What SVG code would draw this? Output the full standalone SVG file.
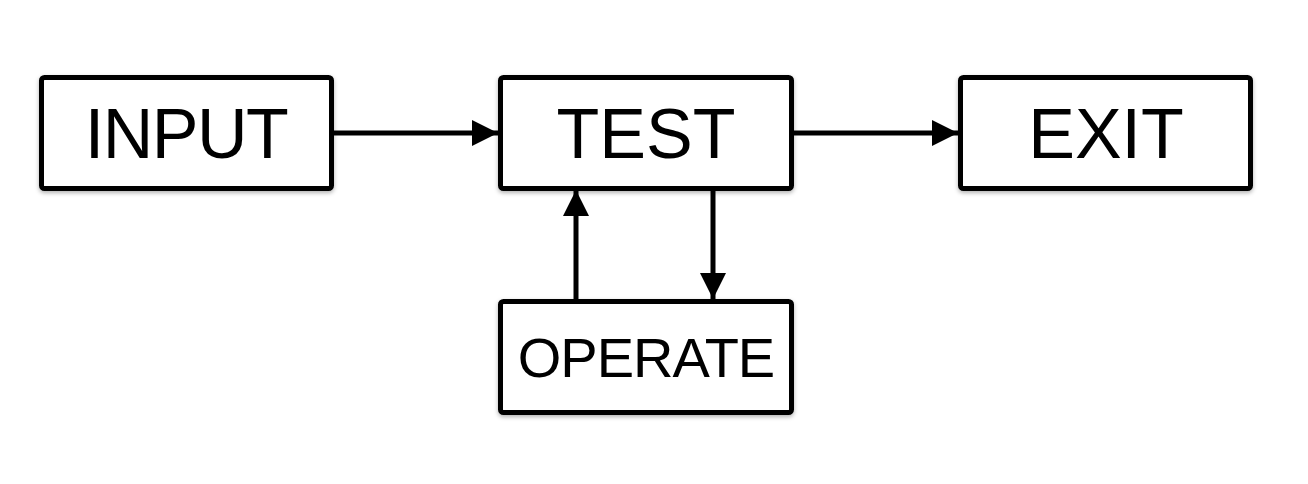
<svg xmlns="http://www.w3.org/2000/svg" width="1308" height="484" viewBox="0 0 1308 484">
  <style>
    .box { fill: #ffffff; stroke: #000000; stroke-width: 5; filter: url(#sh); }
    .lbl { font-family: "Liberation Sans", Arial, Helvetica, sans-serif; fill: #000000; text-anchor: middle; }
    .big { font-size: 70px; }
    .small { font-size: 56px; }
    .edge { stroke: #000000; stroke-width: 5; fill: none; marker-end: url(#ah); }
  </style>
  <defs>
    <filter id="sh" x="-10%" y="-10%" width="120%" height="130%">
      <feDropShadow dx="0" dy="2" stdDeviation="2" flood-color="#000000" flood-opacity="0.3"/>
    </filter>
    <marker id="ah" markerUnits="userSpaceOnUse" markerWidth="26" markerHeight="26" viewBox="0 0 26 26" refX="26" refY="13" orient="auto">
      <polygon points="0,0 26,13 0,26" fill="#000000"/>
    </marker>
  </defs>
  <rect width="1308" height="484" fill="#ffffff"/>
  <g id="connectors">
    <line class="edge" x1="334" y1="133" x2="498" y2="133"/>
    <line class="edge" x1="794" y1="133" x2="958" y2="133"/>
    <line class="edge" x1="713" y1="190" x2="713" y2="299"/>
    <line class="edge" x1="576" y1="299" x2="576" y2="190"/>
  </g>
  <g id="input">
    <rect class="box" x="41.5" y="77.5" width="290" height="111" rx="3"/>
    <text class="lbl big" x="186" y="158" letter-spacing="-1.5">INPUT</text>
  </g>
  <g id="test">
    <rect class="box" x="500.5" y="77.5" width="291" height="111" rx="3"/>
    <text class="lbl big" x="646" y="158">TEST</text>
  </g>
  <g id="exit">
    <rect class="box" x="960.5" y="77.5" width="290" height="111" rx="3"/>
    <text class="lbl big" x="1106" y="158">EXIT</text>
  </g>
  <g id="operate">
    <rect class="box" x="500.5" y="301.5" width="291" height="111" rx="3"/>
    <text class="lbl small" x="646" y="377" letter-spacing="-1">OPERATE</text>
  </g>
</svg>
